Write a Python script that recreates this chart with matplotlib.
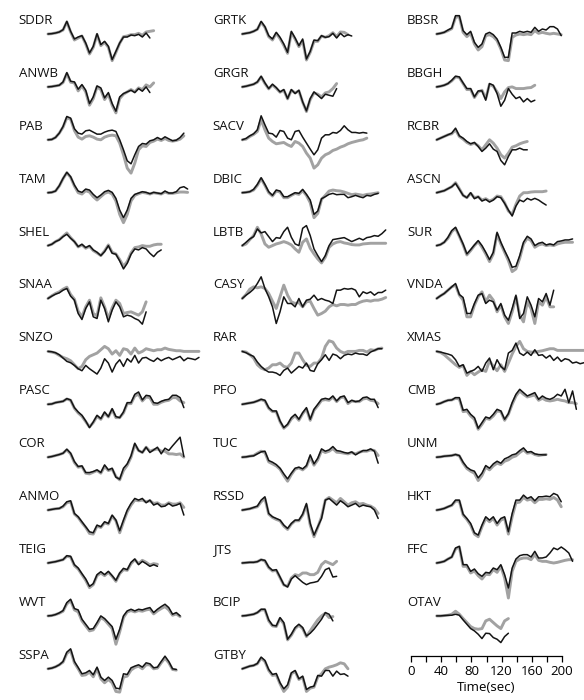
import numpy as np
import matplotlib.pyplot as plt

# amplitudes are in 1/3 px units, positive up, one sample every 5 s
# black = observed, gray = synthetic

# ---- column 1
sddr_obs = [0, 1, 3, 6, 13, 38, 8, -15, -9, -5, -27, -57, -37, 1, -32, -22, -37, -77, -52, -27, -9, -9, -3, -5, -1, -9, 3, -12]
sddr_syn = [0, 1, 3, 6, 12, 36, 6, -18, -12, -6, -30, -60, -40, -2, -35, -25, -40, -80, -55, -28, -8, -6, -2, -2, 2, -4, 6, 8, 10]
anwb_obs = [0, 1, 3, 5, 15, 43, 17, 15, -7, 7, -10, -50, -30, 3, -3, -33, -17, -50, -73, -30, -20, -15, -10, -17, -5, -13, 0, -17]
anwb_syn = [0, 1, 3, 5, 13, 40, 14, 12, -12, 3, -15, -55, -35, 0, -8, -38, -22, -55, -78, -35, -22, -15, -8, -15, -3, -8, 6, 0, 12]
pab_obs = [0, 1, 7, 20, 40, 70, 65, 33, 20, 17, 27, 29, 23, 17, 17, 23, 27, 29, 25, 0, -30, -63, -72, -45, -20, -11, -13, -3, 0, 7, 1, 9, 3, -3, -1, 7, 20]
pab_syn = [0, 1, 7, 20, 38, 66, 62, 28, 8, 2, 10, 12, 8, 2, 0, 8, 12, 14, 12, -10, -45, -85, -100, -70, -30, -18, -20, -8, -4, 2, -2, 4, -2, -4, -2, 2, 12]
tam_obs = [0, 1, 5, 21, 43, 61, 48, 23, 5, 1, 11, 8, -5, -15, -7, 3, 7, 1, -17, -52, -75, -52, -17, -5, -1, 3, 1, -3, 1, -1, -3, 5, -1, -1, 3, 15, 18, 11]
tam_syn = [0, 1, 5, 20, 42, 60, 46, 20, 0, -4, 6, 2, -12, -22, -12, -2, 2, -4, -25, -65, -90, -65, -25, -8, -3, 1, -1, -4, 0, -2, -4, 2, -2, -2, 0, 2, 2, 1]
shel_obs = [0, 4, 12, 17, 27, 34, 22, 12, -3, 4, -6, 0, -13, -20, -30, -18, 0, -23, -26, -46, -70, -53, -26, -10, -13, -6, -10, -23, -33, -20, -13]
shel_syn = [0, 4, 12, 18, 28, 38, 24, 12, -4, 2, -8, -2, -15, -22, -30, -16, 2, -20, -25, -42, -62, -48, -22, -6, -4, 0, -2, -2, 2, 4, 4]
snaa_obs = [0, 7, 13, 17, 25, 30, 7, -5, -45, -63, -30, -10, -55, -60, -5, -30, -70, -35, -10, -25, -55, -50, -53, -60, -65, -77, -40]
snaa_syn = [0, 8, 15, 20, 28, 34, 12, -2, -38, -55, -25, -5, -45, -52, 2, -25, -60, -28, -5, -15, -45, -42, -40, -45, -50, -40, -10]
snzo_obs = [0, -1, -4, -10, -20, -30, -34, -42, -52, -58, -42, -52, -60, -68, -50, -22, -35, -62, -38, -25, -45, -22, -32, -12, -35, -20, -18, -25, -30, -20, -28, -22, -18, -25, -20, -15, -28, -20, -22, -25, -18]
snzo_syn = [0, -2, -5, -12, -18, -22, -28, -40, -52, -45, -25, -15, -10, -5, 5, 15, 8, -8, 2, -12, 8, 5, -8, 10, -5, 0, 8, 5, 2, 5, 5, 10, 6, 4, 2, 2, 0, 0, 0, 0, 0]
pasc_obs = [0, 1, 5, 7, 9, 17, 13, -10, -23, -33, -50, -70, -53, -33, -43, -23, -37, -13, -37, -40, -23, 5, 5, 30, 37, 13, 27, 25, 5, 3, 9, 13, 15, 27, 27, 20, -10]
pasc_syn = [0, 1, 5, 7, 9, 16, 12, -12, -26, -36, -52, -68, -55, -36, -45, -26, -38, -16, -40, -40, -26, 2, 2, 25, 30, 10, 22, 20, 0, 0, 6, 10, 12, 20, 20, 10, 5]
cor_obs = [0, 2, 5, 8, 12, 24, 12, -13, -28, -26, -46, -46, -43, -38, -46, -23, -38, -33, -60, -66, -33, -20, 4, 42, 20, 14, 30, 14, 22, 30, 10, 27, 20, 34, 47, 60, 2]
cor_syn = [0, 2, 5, 8, 12, 22, 10, -16, -30, -28, -48, -50, -45, -40, -48, -28, -40, -36, -58, -68, -40, -24, 0, 38, 20, 14, 30, 18, 22, 25, 18, 18, 10, 10, 8, 10, 0]
anmo_obs = [0, 2, 4, 5, 12, 25, 28, -10, -20, -35, -50, -65, -68, -45, -50, -35, -40, -15, -30, -62, -30, 0, 20, 35, 30, 35, 22, 30, 15, 20, 10, 12, 20, 12, 15, 20, -15]
anmo_syn = [0, 2, 4, 5, 10, 22, 25, -12, -22, -38, -52, -70, -72, -48, -52, -38, -42, -18, -32, -68, -35, -5, 15, 30, 28, 30, 25, 28, 20, 22, 15, 15, 22, 18, 18, 22, 8]
teig_obs = [0, 2, 4, 7, 10, 22, 20, -5, -15, -32, -48, -70, -62, -35, -26, -35, -25, -38, -52, -30, -16, -20, 2, 12, -5, 5, -2, -10, -5, -10]
teig_syn = [0, 2, 4, 7, 10, 20, 18, -8, -18, -35, -52, -74, -65, -38, -30, -38, -28, -40, -55, -32, -20, -22, -2, 10, -2, 8, 2, -6, -2, -4]
wvt_obs = [0, 1, 4, 9, 16, 40, 50, 22, 18, -10, -25, -40, -38, -20, 0, -8, -20, -32, -70, -40, 0, 15, 20, 15, 20, 18, 22, 25, 10, 20, 28, 35, 25, 5, 10, 0]
wvt_syn = [0, 1, 4, 8, 14, 36, 46, 18, 12, -15, -30, -45, -42, -25, -5, -12, -25, -38, -85, -48, -5, 12, 16, 12, 16, 14, 18, 20, 6, 15, 22, 28, 18, 2, 6, -2]
sspa_obs = [0, 2, 6, 12, 22, 50, 60, 22, 4, -15, -12, -5, -18, 5, -25, -35, -25, -35, -58, -60, -15, -17, 3, 8, 12, 5, 18, 15, 3, 5, 22, 38, 22, 0, -2]
sspa_syn = [0, 2, 6, 12, 20, 46, 55, 18, 0, -20, -18, -10, -24, 0, -30, -42, -32, -42, -68, -70, -25, -22, -4, 4, 8, 0, 12, 12, 0, 2, 18, 32, 18, -2, -4]

# ---- column 2
grtk_obs = [0, 2, 4, 8, 14, 38, 22, -5, -15, 5, -10, -30, -55, 8, -12, -35, -15, -75, -52, -18, -20, -5, -10, -8, 2, -12, 2, -8, -2, -6]
grtk_syn = [0, 2, 4, 8, 14, 35, 20, -8, -18, 2, -14, -34, -58, 4, -15, -38, -20, -78, -55, -22, -22, -6, -10, -5, 4, -8, 6, 5, -2]
grgr_obs = [0, 2, 5, 8, 15, 32, 12, -5, 8, -2, -15, -8, -35, -8, -20, -10, -45, -72, -35, -15, -25, -35, -22, -25, -28, -5]
grgr_syn = [0, 2, 5, 8, 14, 30, 10, -6, 6, -4, -16, -10, -36, -10, -18, -12, -46, -74, -38, -18, -22, -30, -18, -15, -5, 10]
sacv_obs = [0, 4, 12, 18, 30, 72, 45, 20, 18, 8, 28, 25, 5, 0, 25, 28, 8, -10, -28, -45, -30, 5, 15, 15, 22, 20, 28, 42, 30, 22, 22, 20, 22, 20]
sacv_syn = [0, 2, 10, 16, 25, 60, 30, 5, -5, -12, -10, -8, -15, -20, -5, -10, -20, -40, -55, -85, -75, -55, -45, -40, -32, -28, -22, -18, -12, -8, -5, -2, 0, 5]
dbic_obs = [0, 1, 3, 10, 25, 45, 25, 3, -8, 8, 5, -12, -12, -6, 0, -2, 10, -5, -22, -65, -55, -18, -12, -5, -2, -6, -5, -5, -15, -12, -8, -12, -15, -8, -10, -5, -2]
dbic_syn = [0, 1, 3, 8, 22, 42, 22, 0, -10, 5, 2, -15, -15, -8, -2, -5, 6, -8, -30, -75, -62, -20, -8, 5, 8, 6, 5, 2, -2, -6, -4, -6, -8, -5, -4, -2, 0]
lbtb_obs = [0, 10, 20, 27, 50, 38, 42, 27, 12, 24, 22, 42, 55, 25, 5, 0, 52, 60, 30, -10, -30, -48, -30, 0, 18, 20, 22, 24, 18, 12, 17, 22, 17, 24, 26, 30, 28, 36, 47]
lbtb_syn = [0, 5, 18, 30, 55, 35, 5, -5, 0, 5, 8, 12, 8, 2, -10, -20, 10, 20, -8, -25, -40, -52, -35, -5, 5, 10, 12, 8, 6, 3, 2, 2, 5, 6, 7, 7, 7, 7, 7]
casy_obs = [0, 10, 18, 28, 45, 65, 30, 5, -25, -75, -40, 5, -15, -15, -25, 0, -25, -5, -2, 10, -5, 0, -5, -8, -15, 25, 25, 30, 28, 30, 25, 5, 20, 15, 20, 10, 18, 18, 25]
casy_syn = [0, 12, 28, 35, 32, 35, 30, 15, -8, -30, 5, 40, 10, -10, -15, -12, -25, -10, -8, -30, -50, -45, -38, -25, -18, -22, -18, -18, -20, -18, -18, -12, -8, -6, -8, -5, -5, -2, 3]
rar_obs = [0, -4, -10, -15, -32, -45, -55, -62, -62, -65, -72, -57, -50, -65, -55, -45, -50, -35, -57, -60, -37, -25, -10, -27, -8, -12, -22, -12, -8, -10, -5, -8, -8, -12, -2, 3, 8, 8]
rar_syn = [0, -2, -10, -20, -40, -50, -55, -50, -40, -40, -35, -45, -48, -35, -5, -5, -25, -42, -45, -35, -35, -20, 15, 32, 28, 10, 0, -5, 0, 0, 0, 3, 3, -2, 5, 3, 8, 10]
pfo_obs = [0, 2, 4, 6, 10, 15, 12, -10, -20, -20, -50, -70, -60, -40, -30, -45, -25, -10, -45, -15, 0, 15, 18, 15, 25, 10, 22, 25, 5, 12, 8, 10, 20, 22, 15, 15, -10]
pfo_syn = [0, 2, 4, 6, 10, 14, 10, -12, -22, -22, -52, -72, -62, -44, -34, -48, -28, -14, -48, -18, -4, 12, 14, 12, 22, 8, 20, 22, 2, 10, 8, 8, 16, 18, 12, 10, 2]
tuc_obs = [0, 1, 3, 4, 10, 16, 18, -10, -15, -22, -33, -50, -65, -48, -33, -30, -35, -25, 7, -20, -3, 25, 18, 22, 32, 20, 18, 14, 12, 16, 7, 14, 20, 20, 25, 18, -18]
tuc_syn = [0, 1, 3, 5, 12, 18, 14, -14, -20, -26, -36, -55, -72, -52, -36, -32, -38, -28, 0, -24, -8, 20, 14, 18, 26, 15, 14, 12, 10, 14, 10, 15, 18, 18, 22, 20, 5]
rssd_obs = [0, 2, 4, 8, 12, 30, 40, -10, -20, -25, -30, -45, -55, -40, -30, -30, -12, 20, -40, -75, -50, -25, 30, 35, 25, 15, 28, 20, 10, 15, 20, 10, 15, 12, 10, 0, -25]
rssd_syn = [0, 2, 4, 7, 10, 25, 35, -12, -22, -28, -32, -48, -58, -42, -32, -32, -15, 15, -45, -80, -52, -20, 30, 38, 30, 22, 35, 25, 15, 22, 25, 18, 20, 15, 12, 5, -10]
jts_obs = [0, 1, 2, 2, 4, 10, 8, -12, -22, -20, -42, -65, -72, -48, -38, -48, -58, -65, -60, -58, -55, -40, -20, -15, -42, -40]
jts_syn = [0, 1, 2, 2, 4, 10, 6, -14, -24, -22, -44, -66, -70, -45, -35, -38, -30, -30, -35, -35, -28, -5, 5, 0, -5, 5]
bcip_obs = [0, 1, 3, 5, 10, 20, 20, -12, -28, -30, -5, -20, -70, -55, -35, -25, -35, -60, -52, -40, -25, -10, 10, 5, -15]
bcip_syn = [0, 1, 3, 5, 10, 18, 18, -15, -30, -32, -8, -24, -72, -58, -38, -28, -38, -62, -45, -28, -12, 0, 8, -5, -2]
gtby_obs = [0, 4, 8, 10, 16, 35, 25, -2, -17, -14, -42, -60, -48, -12, -5, -30, -22, -62, -55, -52, -20, -22, -5, -5, -22, -7, -17, -15, -22]
gtby_syn = [0, 4, 8, 10, 15, 32, 22, -5, -20, -18, -45, -68, -55, -15, -8, -32, -25, -68, -58, -55, -25, -15, 0, 5, 8, 12, 18, 15, 0]

# ---- column 3
bbsr_obs = [0, 2, 5, 12, 18, 55, 55, 10, -2, 8, -25, -40, -30, 0, 5, -2, -15, -40, -70, -70, 3, 3, 8, 5, 8, 5, 20, 8, 15, 12, 22, 22, 15, -5]
bbsr_syn = [0, 2, 5, 10, 16, 50, 52, 5, -8, 2, -30, -48, -38, -5, -2, -8, -20, -45, -78, -80, -10, -3, 0, -2, 0, -2, 10, 2, 5, 2, 0, 2, 0, -2]
bbgh_obs = [0, 2, 5, 10, 20, 32, 30, 12, -5, -5, -30, -12, -12, -40, 10, 5, -20, -58, -40, -5, -22, -35, -30, -45, -35, -45, -40]
bbgh_syn = [0, 2, 5, 10, 18, 30, 28, 10, -8, -8, -32, -15, -10, -35, 8, 2, -15, -35, -15, -2, 0, -5, -5, -5, -3, -2, 5]
rcbr_obs = [0, 5, 10, 15, 20, 35, 12, 5, -5, -12, -8, -20, -35, -25, -12, -28, -35, -62, -75, -50, -30, -30, -25, -30, -30]
rcbr_syn = [0, 5, 10, 15, 18, 30, 10, 2, -8, -14, -10, -18, -30, -15, 0, -10, -25, -45, -55, -40, -22, -18, -12, -8, -5]
ascn_obs = [0, 3, 6, 12, 18, 28, 10, -8, -15, 0, -18, -12, -25, -20, -28, -22, -12, -15, -32, -52, -70, -40, -22, -27, -17, -22, -17, -22, -30, -37]
ascn_syn = [0, 3, 6, 12, 18, 30, 12, -8, -15, -2, -15, -12, -22, -18, -25, -20, -10, -12, -30, -55, -65, -35, -10, 0, 0, 2, 3, 3, 3, 5]
sur_obs = [0, 3, 10, 25, 45, 55, 30, 5, -25, -12, 2, 15, 0, -20, -42, -20, 40, 10, -15, -38, -65, -62, -30, 10, 28, 20, 0, 7, 10, 2, 5, 2, 12, 14, 17, 17, 20]
sur_syn = [0, 3, 10, 22, 42, 52, 28, 2, -28, -15, 0, 12, -5, -25, -48, -25, 35, 5, -20, -45, -78, -70, -38, 5, 22, 15, -5, 2, 5, 0, 2, 0, 5, 8, 10, 10, 10]
vnda_obs = [0, 8, 15, 25, 35, 45, 12, 3, -45, -45, -15, 10, 15, -15, -5, -10, -35, -15, -50, -65, -30, 10, -60, -45, 5, -20, -55, 0, -10, 15, -20, 25]
vnda_syn = [0, 8, 15, 25, 35, 40, 10, -5, -55, -55, -20, 5, 20, -10, 10, -5, -40, -20, -55, -75, -40, 5, -50, -70, -10, -30, -75, -10, -20, 5, -25, -25]
xmas_obs = [0, -2, -5, -8, -12, -25, -45, -40, -65, -60, -55, -45, -60, -35, -20, -55, -25, -45, -55, -5, 3, 25, -5, -12, -2, -12, 5, -12, -10, -20, -12, -27, -17, -30, -22, -25, -35, -32, -37, -34, -32]
xmas_syn = [0, -3, -10, -20, -30, -40, -48, -42, -72, -60, -70, -62, -55, -60, -28, -45, -58, -40, -60, -35, -8, 15, 30, 8, 0, -2, -2, 0, 2, 5, 8, 8, 3, 3, 3, 3, 3, 3, 3, 3, 3]
cmb_obs = [0, 3, 8, 12, 13, 20, 20, -18, -15, -30, -40, -72, -55, -38, -42, -30, -15, -20, -45, -28, 5, 30, 45, 35, 25, 30, 35, 15, 25, 18, 15, 20, 30, 25, 45, 5, 40, -15]
cmb_syn = [0, 3, 8, 12, 13, 18, 16, -22, -20, -35, -45, -75, -60, -42, -45, -35, -20, -22, -48, -30, 0, 25, 40, 30, 22, 25, 28, 12, 18, 12, 10, 12, 15, 12, 10, 5, 5, 2]
unm_obs = [0, 1, 3, 4, 5, 8, 5, -15, -30, -38, -42, -62, -48, -25, -33, -20, -12, -18, -5, 0, 7, 10, 20, 28, 15, 17, 10, 8, 7, 7]
unm_syn = [0, 1, 3, 4, 5, 8, 4, -18, -34, -42, -48, -70, -55, -30, -38, -26, -18, -22, -12, -8, 0, 4, 14, 22, 12, 14, 8, 5, 7, 8]
hkt_obs = [0, 2, 5, 10, 15, 30, 30, -12, -25, -40, -68, -75, -45, -20, -30, -20, -40, -25, -20, -65, -10, 30, 30, 45, 35, 40, 28, 40, 40, 42, 40, 50, 45, 25]
hkt_syn = [0, 2, 5, 10, 14, 27, 27, -15, -28, -45, -72, -80, -50, -25, -35, -25, -45, -30, -25, -72, -20, 22, 24, 38, 30, 33, 22, 32, 32, 34, 32, 38, 30, 10]
ffc_obs = [0, 2, 5, 12, 18, 45, 50, -5, -5, -25, -18, -32, -40, -28, -30, -15, -20, -5, -35, -75, -15, 12, 22, 25, 25, 18, 35, 15, 15, 18, 30, 45, 40, 48, 40, 30, 5]
ffc_syn = [0, 2, 5, 12, 18, 42, 48, -10, -10, -30, -24, -38, -48, -34, -35, -20, -28, -10, -45, -105, -25, 5, 12, 15, 15, 10, 25, 8, 5, 5, 2, 0, 2, 5, 8, 10, 10]
otav_obs = [0, 0, 1, 2, 2, 5, 2, -12, -25, -38, -45, -55, -68, -52, -53, -65, -70, -80, -62, -52]
otav_syn = [0, 0, 1, 2, 5, 14, 5, -8, -20, -32, -38, -40, -38, -15, -10, -20, -30, -38, -15, -8]

col1 = [('SDDR', sddr_obs, sddr_syn), ('ANWB', anwb_obs, anwb_syn), ('PAB', pab_obs, pab_syn),
        ('TAM', tam_obs, tam_syn), ('SHEL', shel_obs, shel_syn), ('SNAA', snaa_obs, snaa_syn),
        ('SNZO', snzo_obs, snzo_syn), ('PASC', pasc_obs, pasc_syn), ('COR', cor_obs, cor_syn),
        ('ANMO', anmo_obs, anmo_syn), ('TEIG', teig_obs, teig_syn), ('WVT', wvt_obs, wvt_syn),
        ('SSPA', sspa_obs, sspa_syn)]
col2 = [('GRTK', grtk_obs, grtk_syn), ('GRGR', grgr_obs, grgr_syn), ('SACV', sacv_obs, sacv_syn),
        ('DBIC', dbic_obs, dbic_syn), ('LBTB', lbtb_obs, lbtb_syn), ('CASY', casy_obs, casy_syn),
        ('RAR', rar_obs, rar_syn), ('PFO', pfo_obs, pfo_syn), ('TUC', tuc_obs, tuc_syn),
        ('RSSD', rssd_obs, rssd_syn), ('JTS', jts_obs, jts_syn), ('BCIP', bcip_obs, bcip_syn),
        ('GTBY', gtby_obs, gtby_syn)]
col3 = [('BBSR', bbsr_obs, bbsr_syn), ('BBGH', bbgh_obs, bbgh_syn), ('RCBR', rcbr_obs, rcbr_syn),
        ('ASCN', ascn_obs, ascn_syn), ('SUR', sur_obs, sur_syn), ('VNDA', vnda_obs, vnda_syn),
        ('XMAS', xmas_obs, xmas_syn), ('CMB', cmb_obs, cmb_syn), ('UNM', unm_obs, unm_syn),
        ('HKT', hkt_obs, hkt_syn), ('FFC', ffc_obs, ffc_syn), ('OTAV', otav_obs, otav_syn)]

scale_ticks = [0, 40, 80, 120, 160, 200]

## layout (pixels)
W, H = 584, 700
px_per_sec = 0.755
t_start, dt = 34, 5         # first sample time, sample spacing (sec)
amp_px = 1 / 3              # amplitude unit -> pixels
row0, row_gap = 34, 52.9    # first baseline and row spacing
col_origin = [22.3, 216.6, 411.0]  # px where t=0 sits in each column

plt.rcParams['font.family'] = ['Open Sans', 'DejaVu Sans']

fig = plt.figure(figsize=(W / 100, H / 100), dpi=100)
fig.patch.set_facecolor('white')

for c, stations in enumerate([col1, col2, col3]):
    ax = fig.add_axes([0, 0, 1, 1])
    ax.patch.set_alpha(0)
    ax.axis('off')
    x0 = col_origin[c]
    ax.set_xlim(-x0 / px_per_sec, (W - x0) / px_per_sec)
    ax.set_ylim(-H, 0)
    for r, (name, obs, syn) in enumerate(stations):
        base = -(row0 + r * row_gap)
        for vals, color, lw in ((syn, '#a2a2a2', 2.1), (obs, '#141414', 1.1)):
            t = t_start + dt * np.arange(len(vals))
            ax.plot(t, base + np.array(vals) * amp_px, color=color, lw=lw,
                    solid_joinstyle='round', solid_capstyle='round')
        ax.text(-5, base + 10, name, fontsize=9.5, ha='left', va='baseline', color='#111111')

# time scale bar
sx = fig.add_axes([col_origin[2] / W, (H - 655.7) / H, 200 * px_per_sec / W, 0.0001])
sx.set_xlim(0, 200)
sx.set_yticks([])
for s in ('left', 'right', 'top'):
    sx.spines[s].set_visible(False)
sx.spines['bottom'].set_linewidth(0.9)
sx.set_xticks(scale_ticks)
sx.set_xticks(range(20, 200, 40), minor=True)
sx.tick_params(axis='x', which='both', direction='out', length=4, width=0.9, pad=3, labelsize=9.5)
sx.set_xlabel('Time(sec)', fontsize=9.5, labelpad=2)
sx.patch.set_alpha(0)

fig.savefig('out.png', dpi=100)
